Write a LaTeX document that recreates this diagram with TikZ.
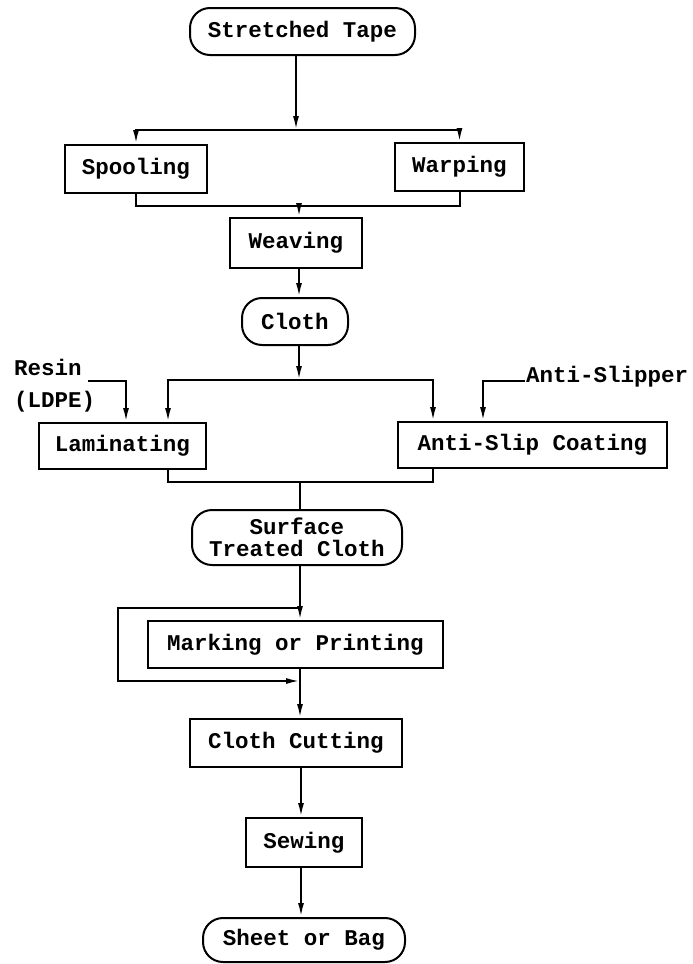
\documentclass[tikz,border=0pt]{standalone}
\usepackage{fontspec}
\newfontfamily\flowfont{Liberation Mono}
\usetikzlibrary{arrows.meta}
\begin{document}
\begin{tikzpicture}[x=1pt,y=-1pt,
  every node/.style={font=\flowfont\bfseries\fontsize{22.5}{22}\selectfont, inner sep=0pt},
  stepbox/.style={draw, line width=2pt, minimum width=#1},
  endbox/.style={draw, line width=2pt, rounded corners=20pt, minimum width=#1, align=center},
  flow/.style={line width=2pt},
  arr/.style={flow, -{Latex[length=14pt,width=6pt]}},
  lbl/.style={anchor=west}]
\useasboundingbox (0,0) rectangle (693,964);

% process steps
\node[endbox=225, minimum height=47] (tape)  at (302.5,31.5) {Stretched Tape};
\node[stepbox=142, minimum height=48] (spool) at (136,169)   {Spooling};
\node[stepbox=129, minimum height=48] (warp)  at (459.5,167) {Warping};
\node[stepbox=132, minimum height=50] (weave) at (296,243)   {Weaving};
\node[endbox=106, minimum height=47]  (cloth) at (295,321.5) {Cloth};
\node[stepbox=167, minimum height=46] (lam)   at (122.5,446) {Laminating};
\node[stepbox=269, minimum height=46] (anti)  at (532.5,445) {Anti-Slip Coating};
\node[endbox=210, minimum height=55]  (surf)  at (297,537.5) {Surface\\Treated Cloth};
\node[stepbox=295, minimum height=47] (mark)  at (295.5,644.5) {Marking or Printing};
\node[stepbox=212, minimum height=48] (cut)   at (296,743)   {Cloth Cutting};
\node[stepbox=116, minimum height=49] (sew)   at (304,842.5) {Sewing};
\node[endbox=202, minimum height=44]  (sheet) at (304,940)   {Sheet or Bag};

% side inputs
\node[lbl] (resin) at (14,367) {Resin};
\node[lbl] (ldpe)  at (14,402) {(LDPE)};
\node[lbl] (slip)  at (526,377) {Anti-Slipper};

% junction points
\coordinate (b1) at (296,130);
\coordinate (m1) at (299,206);
\coordinate (b2) at (299,380);
\coordinate (lin) at (168,380);
\coordinate (ain) at (433,380);
\coordinate (rs) at (88,381);
\coordinate (rx) at (126,381);
\coordinate (sl) at (525,381);
\coordinate (ax) at (483,381);
\coordinate (m2) at (300,482);
\coordinate (j1) at (300,608);
\coordinate (lp) at (118,608);
\coordinate (j2) at (300,681);
\coordinate (m3) at (301,800);

% tape to spooling / warping
\draw[arr] (tape.south -| b1) -- (b1);
\draw[arr] (b1) -| (spool.north);
\draw[arr] (b1) -| (warp.north);

% spooling / warping to weaving
\draw[flow] (spool.south) |- (m1) -| (warp.south);
\draw[arr] (m1) -- (m1 |- weave.north);
\draw[arr] (m1 |- weave.south) -- (m1 |- cloth.north);

% cloth to the two surface treatments
\draw[arr] (m1 |- cloth.south) -- (b2);
\draw[arr] (b2) -| (lin |- lam.north);
\draw[arr] (b2) -| (ain |- anti.north);
\draw[arr] (rs) -| (rx |- lam.north);
\draw[arr] (sl) -| (ax |- anti.north);

% treatments merge into surface treated cloth
\draw[flow] (lin |- lam.south) |- (m2) -| (ain |- anti.south);
\draw[flow] (m2) -- (m2 |- surf.north);

% marking with bypass
\draw[arr] (m2 |- surf.south) -- (m2 |- mark.north);
\draw[arr] (j1) -- (lp) |- (j2);
\draw[arr] (m2 |- mark.south) -- (m2 |- cut.north);

% cutting, sewing, product
\draw[arr] (m3 |- cut.south) -- (m3 |- sew.north);
\draw[arr] (m3 |- sew.south) -- (m3 |- sheet.north);
\end{tikzpicture}
\end{document}
